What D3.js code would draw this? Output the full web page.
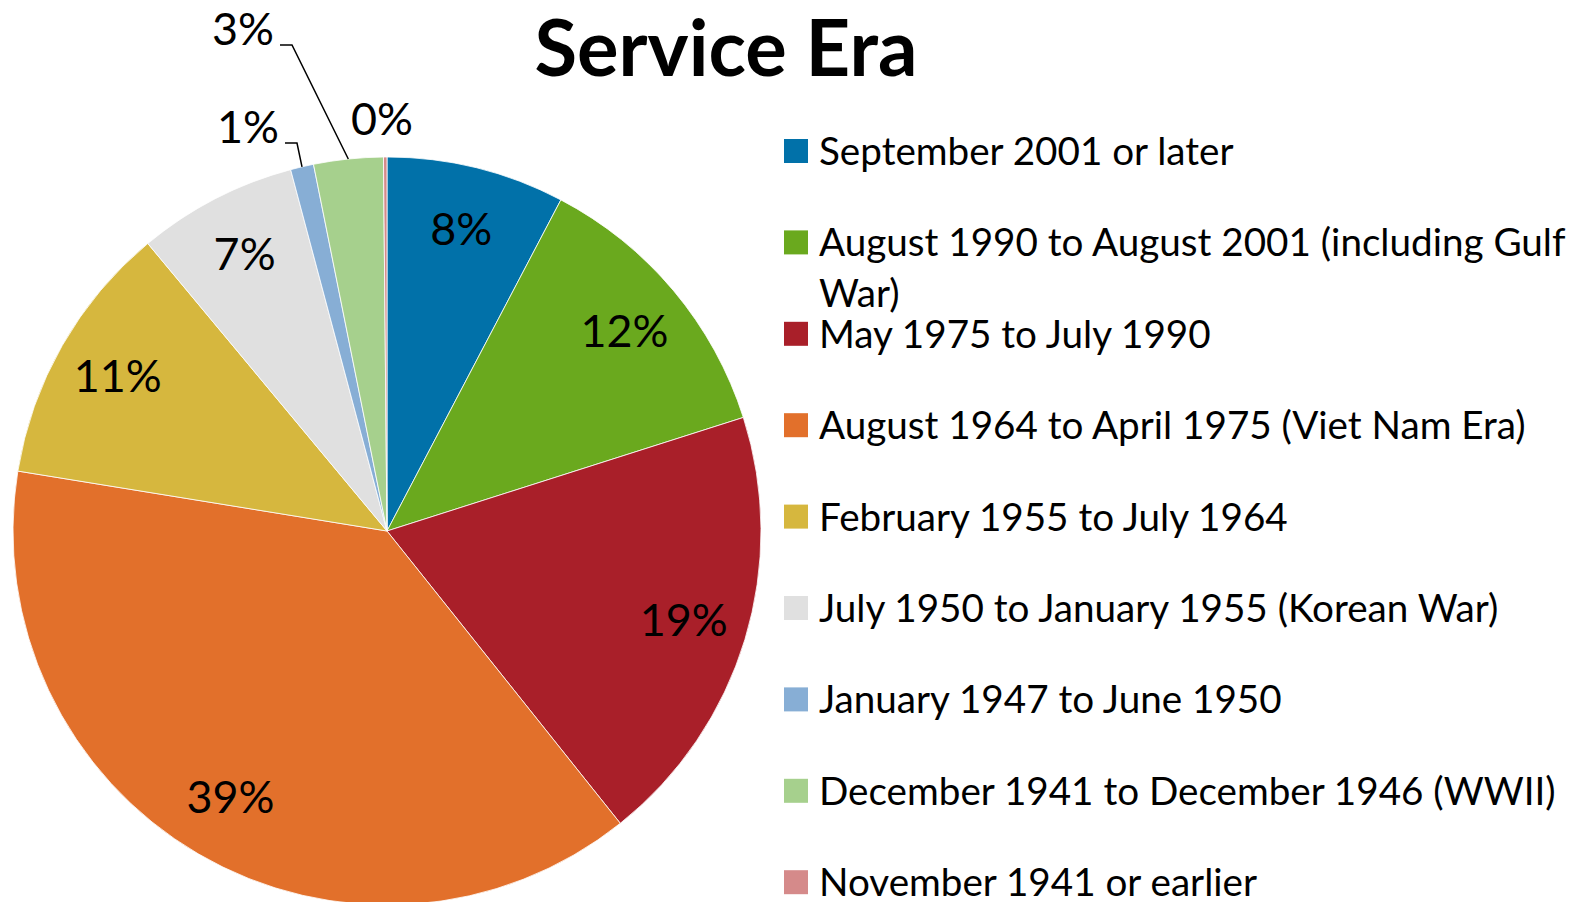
<!DOCTYPE html>
<html>
<head>
<meta charset="utf-8">
<script src="https://cdn.jsdelivr.net/npm/d3@7"></script>
<style>
  body { margin: 0; background: #fff; }
  svg { display: block; font-family: Lato, 'Open Sans', sans-serif; }
</style>
</head>
<body>
<div id="chart"></div>
<script>
const categories = [
  'September 2001 or later',
  'August 1990 to August 2001 (including Gulf War)',
  'May 1975 to July 1990',
  'August 1964 to April 1975 (Viet Nam Era)',
  'February 1955 to July 1964',
  'July 1950 to January 1955 (Korean War)',
  'January 1947 to June 1950',
  'December 1941 to December 1946 (WWII)',
  'November 1941 or earlier'
]
const values = [7.7, 12.4, 19.2, 38.3, 11.4, 6.9, 1.0, 3.0, 0.15]
const pctLabels = ['8%', '12%', '19%', '39%', '11%', '7%', '1%', '3%', '0%']
const colors = ['#0171a9', '#6aa91e', '#a91f29', '#e2702b', '#d6b73e', '#e0e0e0', '#87aed5', '#a6d08d', '#d58a8a']

const width = 1587
const height = 902
const cx = 387
const cy = 531
const radius = 374

// small slices get their label outside, offset from the pie centre
const outside = {
  6: { x: -139, y: -403, leader: true },
  7: { x: -144, y: -501, leader: true },
  8: { x: -5, y: -411, leader: false }
}

const svg = d3
  .select('#chart')
  .append('svg')
  .attr('width', width)
  .attr('height', height)

// fit a font size so that a sample string has the wanted width
function fitSize(sample, target, weight) {
  const t = svg.append('text').attr('font-size', 100).attr('font-weight', weight).text(sample)
  const w = t.node().getComputedTextLength()
  t.remove()
  return 100 * target / w
}

const titleSize = fitSize('Service Era', 383, 'bold')
const legendSize = fitSize(categories[7], 737, 'normal')
const pctSize = fitSize('39%', 88, 'normal')

svg
  .append('text')
  .text('Service Era')
  .attr('x', 726)
  .attr('y', 76)
  .attr('text-anchor', 'middle')
  .attr('font-size', titleSize)
  .attr('font-weight', 'bold')
  .attr('fill', '#000')

const pie = d3.pie().sort(null).value(d => d)
const arcs = pie(values)

const arc = d3.arc().innerRadius(0).outerRadius(radius)
const labelArc = d3.arc().innerRadius(310).outerRadius(310)

const g = svg.append('g').attr('transform', 'translate(' + cx + ',' + cy + ')')

g.selectAll('path')
  .data(arcs)
  .enter()
  .append('path')
  .attr('d', arc)
  .attr('fill', (d, i) => colors[i])
  .attr('stroke', '#fff')
  .attr('stroke-width', 0.8)

g.selectAll('.pct')
  .data(arcs)
  .enter()
  .append('text')
  .attr('class', 'pct')
  .attr('text-anchor', 'middle')
  .attr('font-size', pctSize)
  .attr('fill', '#000')
  .attr('dy', '0.33em')
  .attr('x', (d, i) => (outside[i] ? outside[i].x : labelArc.centroid(d)[0]))
  .attr('y', (d, i) => (outside[i] ? outside[i].y : labelArc.centroid(d)[1]))
  .text((d, i) => pctLabels[i])
  .each(function(d, i) {
    const o = outside[i]
    if (!o || !o.leader) return
    const w = this.getComputedTextLength()
    const a = (d.startAngle + d.endAngle) / 2
    const ly = o.y + 15
    const x0 = o.x + w / 2 + 6
    const pts = [
      [x0, ly],
      [x0 + 12, ly],
      [Math.sin(a) * radius, -Math.cos(a) * radius]
    ]
    g.append('path')
      .attr('d', d3.line()(pts))
      .attr('fill', 'none')
      .attr('stroke', '#000')
      .attr('stroke-width', 1.5)
  })

// legend
const legendX = 784
const legendTop = 165
const legendStep = 91.4
const textX = 819
const maxW = width - textX - 4

const legend = svg.append('g')
categories.forEach((c, i) => {
  const by = legendTop + i * legendStep
  legend
    .append('rect')
    .attr('x', legendX)
    .attr('y', by - 26)
    .attr('width', 24)
    .attr('height', 24)
    .attr('fill', colors[i])
  const t = legend
    .append('text')
    .attr('x', textX)
    .attr('y', by)
    .attr('font-size', legendSize)
    .attr('fill', '#000')
  const words = c.split(' ')
  let line = []
  let tspan = t.append('tspan').attr('x', textX).attr('y', by)
  let lineNo = 0
  words.forEach(w => {
    line.push(w)
    tspan.text(line.join(' '))
    if (tspan.node().getComputedTextLength() > maxW && line.length > 1) {
      line.pop()
      tspan.text(line.join(' '))
      line = [w]
      lineNo++
      tspan = t.append('tspan').attr('x', textX).attr('y', by + lineNo * 51).text(w)
    }
  })
})
</script>
</body>
</html>
